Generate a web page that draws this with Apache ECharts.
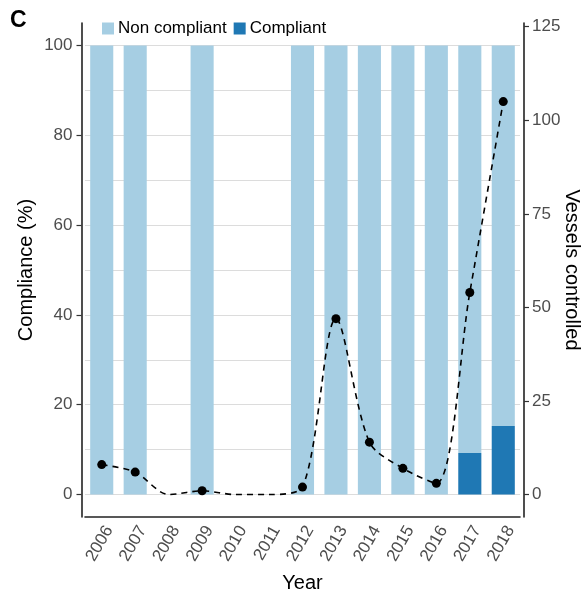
<!DOCTYPE html>
<html>
<head>
<meta charset="utf-8">
<script src="https://cdn.jsdelivr.net/npm/echarts@6/dist/echarts.min.js"></script>
<style>
html, body { margin: 0; padding: 0; background: #fff; }
#chart { width: 586px; height: 594px; }
</style>
</head>
<body>
<div id="chart"></div>
<script>
// 年份
var years = ['2006', '2007', '2008', '2009', '2010', '2011', '2012', '2013', '2014', '2015', '2016', '2017', '2018'];
// 合规比例 (%)，无检查的年份为空
var compliant = [0, 0, null, 0, null, null, 0, 0, 0, 0, 0, 9.26, 15.24];
var nonCompliant = [100, 100, null, 100, null, null, 100, 100, 100, 100, 100, 90.74, 84.76];
// 检查船只数
var vessels = [8, 6, 0, 1, 0, 0, 2, 47, 14, 7, 3, 54, 105];
var leftTicks = [0, 20, 40, 60, 80, 100];
var gridTicks = [0, 10, 20, 30, 40, 50, 60, 70, 80, 90, 100];
var rightTicks = [0, 25, 50, 75, 100, 125];

var font = 'Liberation Sans, Arial, sans-serif';
var chart = echarts.init(document.getElementById('chart'));

var lineData = vessels.map(function (v) {
	return v > 0 ? v : { value: v, symbol: 'none' };
});

chart.setOption({
	animation: false,
	backgroundColor: '#fff',
	textStyle: { fontFamily: font },
	graphic: [{
		type: 'text',
		left: 10,
		top: 9,
		style: { text: 'C', font: 'bold 23px ' + font, fill: '#000' }
	}],
	legend: {
		data: ['Non compliant', 'Compliant'],
		left: 97,
		top: 15,
		itemWidth: 12,
		itemHeight: 12,
		itemGap: 7,
		icon: 'rect',
		textStyle: { fontSize: 17, color: '#000', fontFamily: font, padding: [0, 0, 0, -1] }
	},
	grid: { left: 85, right: 66, top: 23, bottom: 77, outerBoundsMode: 'none', containLabel: false },
	xAxis: {
		type: 'category',
		data: years,
		name: 'Year',
		nameLocation: 'middle',
		nameGap: 56,
		nameMoveOverlap: false,
		nameTextStyle: { fontSize: 20, color: '#000', fontFamily: font },
		axisLine: { onZero: false, lineStyle: { color: '#222', width: 1.6 } },
		axisTick: { alignWithLabel: true, length: 5, lineStyle: { color: '#333', width: 1.2 } },
		axisLabel: { rotate: 60, fontSize: 17, color: '#4d4d4d', margin: 6, verticalAlign: 'top', fontFamily: font },
		splitLine: { show: false }
	},
	yAxis: [{
		type: 'value',
		min: -5,
		max: 105,
		position: 'left',
		offset: 3.5,
		name: 'Compliance (%)',
		nameLocation: 'middle',
		nameGap: 45,
		nameMoveOverlap: false,
		nameTextStyle: { fontSize: 20, color: '#000', fontFamily: font },
		axisLine: { show: true, lineStyle: { color: '#222', width: 1.6 } },
		axisTick: { show: true, length: 5, customValues: leftTicks, lineStyle: { color: '#333', width: 1.2 } },
		axisLabel: { customValues: leftTicks, fontSize: 17, color: '#4d4d4d', margin: 9, fontFamily: font },
		splitLine: { show: false }
	}, {
		type: 'value',
		min: -6,
		max: 126,
		position: 'right',
		offset: 4,
		name: 'Vessels controlled',
		nameLocation: 'middle',
		nameGap: 38,
		nameRotate: -90,
		nameMoveOverlap: false,
		nameTextStyle: { fontSize: 20, color: '#000', fontFamily: font },
		axisLine: { show: true, lineStyle: { color: '#222', width: 1.6 } },
		axisTick: { show: true, length: 5, customValues: rightTicks, lineStyle: { color: '#333', width: 1.2 } },
		axisLabel: { customValues: rightTicks, fontSize: 17, color: '#4d4d4d', margin: 8, fontFamily: font },
		splitLine: { show: false }
	}, {
		type: 'value',
		min: -5,
		max: 105,
		show: true,
		axisLine: { show: false },
		axisTick: { show: false, customValues: gridTicks },
		axisLabel: { show: false, customValues: gridTicks },
		splitLine: { show: true, lineStyle: { color: '#dcdcdc', width: 1 } }
	}],
	series: [{
		name: 'Compliant',
		type: 'bar',
		stack: 'c',
		yAxisIndex: 0,
		barWidth: '69%',
		data: compliant,
		itemStyle: { color: '#1f78b4' }
	}, {
		name: 'Non compliant',
		type: 'bar',
		stack: 'c',
		yAxisIndex: 0,
		barWidth: '69%',
		data: nonCompliant,
		itemStyle: { color: '#a6cee3' }
	}, {
		name: 'Vessels',
		type: 'line',
		yAxisIndex: 1,
		smooth: 0.3,
		data: lineData,
		symbol: 'circle',
		symbolSize: 9,
		showAllSymbol: true,
		z: 5,
		itemStyle: { color: '#000' },
		lineStyle: { color: '#000', width: 1.6, type: [6, 5] }
	}]
});
</script>
</body>
</html>
